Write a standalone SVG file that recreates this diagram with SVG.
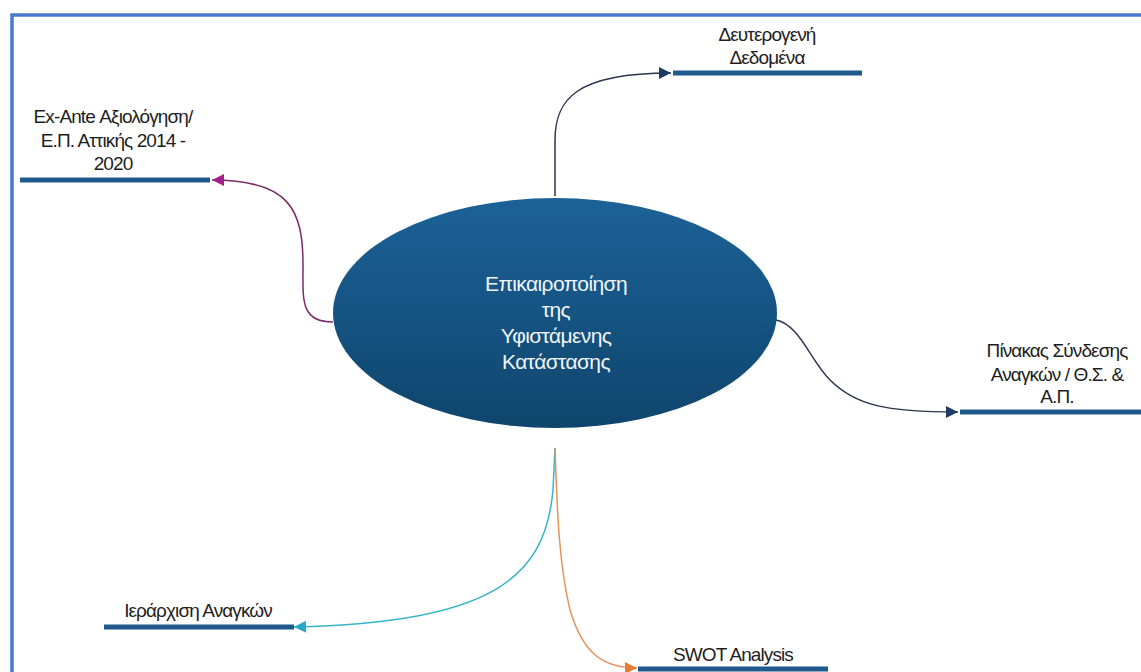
<svg xmlns="http://www.w3.org/2000/svg" width="1141" height="672" viewBox="0 0 1141 672">
  <defs>
    <linearGradient id="ellGrad" x1="0" y1="0" x2="0" y2="1">
      <stop offset="0" stop-color="#1c6297"/>
      <stop offset="1" stop-color="#0f456d"/>
    </linearGradient>
    <marker id="arrNavy" viewBox="0 0 10 10" refX="10" refY="5" markerWidth="14" markerHeight="12" markerUnits="userSpaceOnUse" orient="auto">
      <path d="M0,0 L10,5 L0,10 z" fill="#1f3a63"/>
    </marker>
    <marker id="arrMag" viewBox="0 0 10 10" refX="10" refY="5" markerWidth="14" markerHeight="12" markerUnits="userSpaceOnUse" orient="auto">
      <path d="M0,0 L10,5 L0,10 z" fill="#a3208a"/>
    </marker>
    <marker id="arrTeal" viewBox="0 0 10 10" refX="10" refY="5" markerWidth="14" markerHeight="12" markerUnits="userSpaceOnUse" orient="auto">
      <path d="M0,0 L10,5 L0,10 z" fill="#2aa9c4"/>
    </marker>
    <marker id="arrOrange" viewBox="0 0 10 10" refX="10" refY="5" markerWidth="14" markerHeight="12" markerUnits="userSpaceOnUse" orient="auto">
      <path d="M0,0 L10,5 L0,10 z" fill="#e47c35"/>
    </marker>
  </defs>
  <style>
    .lbl { font-family: "Liberation Sans", Arial, sans-serif; font-size: 19px; fill: #1e1e1e; text-anchor: middle; letter-spacing: -0.9px; }
    .ctr { font-family: "Liberation Sans", Arial, sans-serif; font-size: 21px; fill: #f2f6fa; text-anchor: middle; letter-spacing: -0.6px; }
    .bar { stroke: #1e5b8c; stroke-width: 5; fill: none; }
    .conn { fill: none; stroke-width: 1.5; }
  </style>
  <rect x="0" y="0" width="1141" height="672" fill="#ffffff"/>
  <path d="M12,700 L12,15 L1160,15" fill="none" stroke="#4a78cf" stroke-width="3.5"/>

  <g id="connectors">
    <path class="conn" stroke="#7a2a66" d="M333,322 C300,322 303,300 303,265 C303,210 290,180 212,180" marker-end="url(#arrMag)"/>
    <path class="conn" stroke="#2a3550" d="M555,196 L555,140 C555,100 575,73 671,73" marker-end="url(#arrNavy)"/>
    <path class="conn" stroke="#2a3550" d="M776,320 C800,325 810,360 830,380 C855,405 885,412 958,412" marker-end="url(#arrNavy)"/>
    <path class="conn" stroke="#36b4c8" d="M555,448 L553,490 C545,580 490,622 294,627" marker-end="url(#arrTeal)"/>
    <path class="conn" stroke="#e3935a" d="M555,448 C557,500 558,560 570,610 C582,650 600,668 637,668" marker-end="url(#arrOrange)"/>
  </g>

  <g id="center">
    <ellipse cx="555" cy="313" rx="222" ry="115" fill="url(#ellGrad)"/>
    <text class="ctr" x="556" y="291">Επικαιροποίηση</text>
    <text class="ctr" x="556" y="317">της</text>
    <text class="ctr" x="556" y="343">Υφιστάμενης</text>
    <text class="ctr" x="556" y="369">Κατάστασης</text>
  </g>

  <g id="exante">
    <line class="bar" x1="20" y1="180" x2="210" y2="180"/>
    <text class="lbl" x="113" y="123">Ex-Ante Αξιολόγηση/</text>
    <text class="lbl" x="113" y="147">Ε.Π. Αττικής 2014 -</text>
    <text class="lbl" x="113" y="170">2020</text>
  </g>

  <g id="secondary">
    <line class="bar" x1="673" y1="73" x2="862" y2="73"/>
    <text class="lbl" x="767" y="41">Δευτερογενή</text>
    <text class="lbl" x="767" y="64">Δεδομένα</text>
  </g>

  <g id="table">
    <line class="bar" x1="960" y1="412" x2="1141" y2="412"/>
    <text class="lbl" x="1057" y="357">Πίνακας Σύνδεσης</text>
    <text class="lbl" x="1057" y="381">Αναγκών / Θ.Σ. &amp;</text>
    <text class="lbl" x="1057" y="403">Α.Π.</text>
  </g>

  <g id="hierarchy">
    <line class="bar" x1="104" y1="627" x2="294" y2="627"/>
    <text class="lbl" x="198" y="617">Ιεράρχιση Αναγκών</text>
  </g>

  <g id="swot">
    <line class="bar" x1="638" y1="669" x2="828" y2="669"/>
    <text class="lbl" x="733" y="661">SWOT Analysis</text>
  </g>
</svg>
